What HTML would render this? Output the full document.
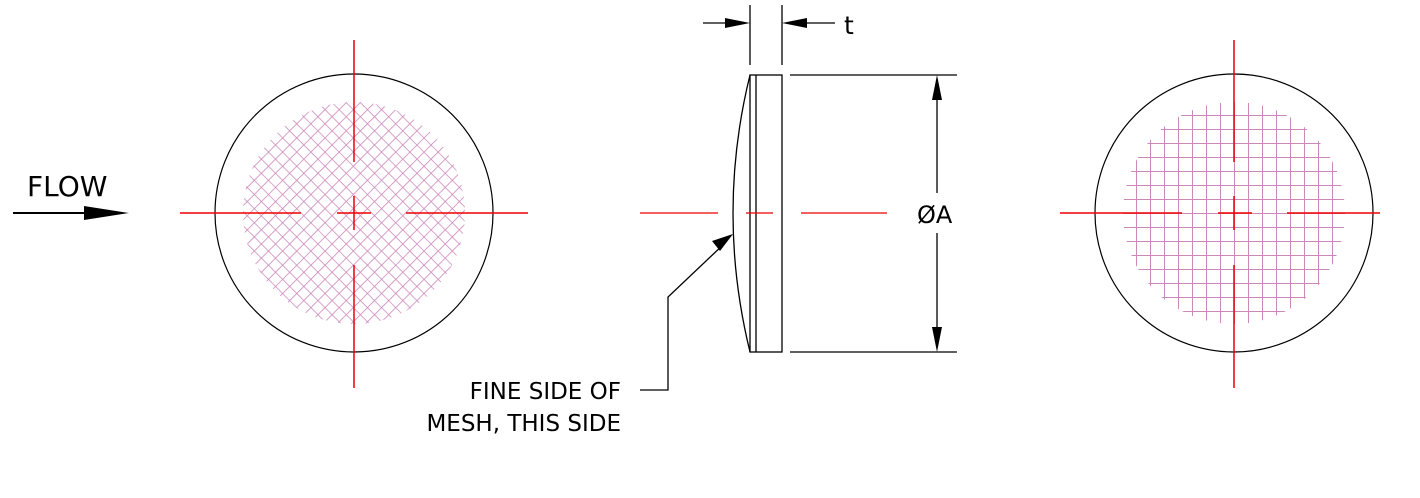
<!DOCTYPE html>
<html><head><style>body{margin:0;background:#fff}svg{display:block}text{font-family:"DejaVu Sans","Liberation Sans",sans-serif;fill:#000}</style></head>
<body>
<svg width="1420" height="498" viewBox="0 0 1420 498" xmlns="http://www.w3.org/2000/svg">
<defs>
<pattern id="diag" width="10" height="10" patternUnits="userSpaceOnUse" patternTransform="rotate(45 354 213)">
<path d="M0 0H10M0 0V10" stroke="#cc88bb" stroke-width="1.6" fill="none"/>
</pattern>
<pattern id="grid" x="1234" y="213" width="14" height="14" patternUnits="userSpaceOnUse">
<path d="M0 0H14M0 0V14" stroke="#cc88bb" stroke-width="2" fill="none"/>
</pattern>
</defs>
<text x="27" y="196" font-size="28">FLOW</text>
<line x1="13" y1="213" x2="90" y2="213" stroke="#000" stroke-width="2"/>
<polygon points="84,206 129,213 84,220" fill="#000"/>
<circle cx="354" cy="213" r="111" fill="url(#diag)"/>
<circle cx="354" cy="213" r="139" fill="none" stroke="#000" stroke-width="1.2"/>
<g stroke="#e00" stroke-width="1.5">
<line x1="354" y1="40" x2="354" y2="162"/><line x1="354" y1="196" x2="354" y2="230"/><line x1="354" y1="265" x2="354" y2="388"/>
<line x1="180" y1="213" x2="301" y2="213"/><line x1="337" y1="213" x2="371" y2="213"/><line x1="406" y1="213" x2="528" y2="213"/>
</g>
<circle cx="1234" cy="213" r="111" fill="url(#grid)"/>
<circle cx="1234" cy="213" r="139" fill="none" stroke="#000" stroke-width="1.2"/>
<g stroke="#e00" stroke-width="1.5">
<line x1="1234" y1="40" x2="1234" y2="162"/><line x1="1234" y1="196" x2="1234" y2="230"/><line x1="1234" y1="265" x2="1234" y2="388"/>
<line x1="1060" y1="213" x2="1182" y2="213"/><line x1="1218" y1="213" x2="1252" y2="213"/><line x1="1287" y1="213" x2="1380" y2="213"/>
</g>
<g stroke="#000" stroke-width="1.3" fill="none">
<rect x="750" y="75" width="32" height="277"/>
<line x1="756" y1="75" x2="756" y2="352"/>
<path d="M750 75 Q716 213 750 352"/>
<line x1="750" y1="5" x2="750" y2="65"/><line x1="782" y1="5" x2="782" y2="65"/>
<line x1="703" y1="23" x2="740" y2="23"/><line x1="792" y1="23" x2="835" y2="23"/>
<line x1="790" y1="75" x2="957" y2="75"/><line x1="790" y1="352" x2="957" y2="352"/>
<line x1="937" y1="90" x2="937" y2="193"/><line x1="937" y1="233" x2="937" y2="340"/>
<polyline points="725,243 668,297 668,390 640,390"/>
</g>
<g fill="#000">
<polygon points="725,18 750,23 725,28"/><polygon points="807,18 782,23 807,28"/>
<polygon points="932,100 937,75 942,100"/><polygon points="932,327 937,352 942,327"/>
<polygon points="733,234 712,241 720,251"/>
</g>
<g stroke="#e00" stroke-width="1.3">
<line x1="640" y1="213" x2="718" y2="213"/><line x1="746" y1="213" x2="773" y2="213"/><line x1="801" y1="213" x2="887" y2="213"/>
</g>
<text x="844" y="34" font-size="25">t</text>
<text x="917" y="223" font-size="24">ØA</text>
<text x="621" y="399" font-size="23" text-anchor="end">FINE SIDE OF</text>
<text x="621" y="431" font-size="23" text-anchor="end">MESH, THIS SIDE</text>
</svg>
</body></html>
